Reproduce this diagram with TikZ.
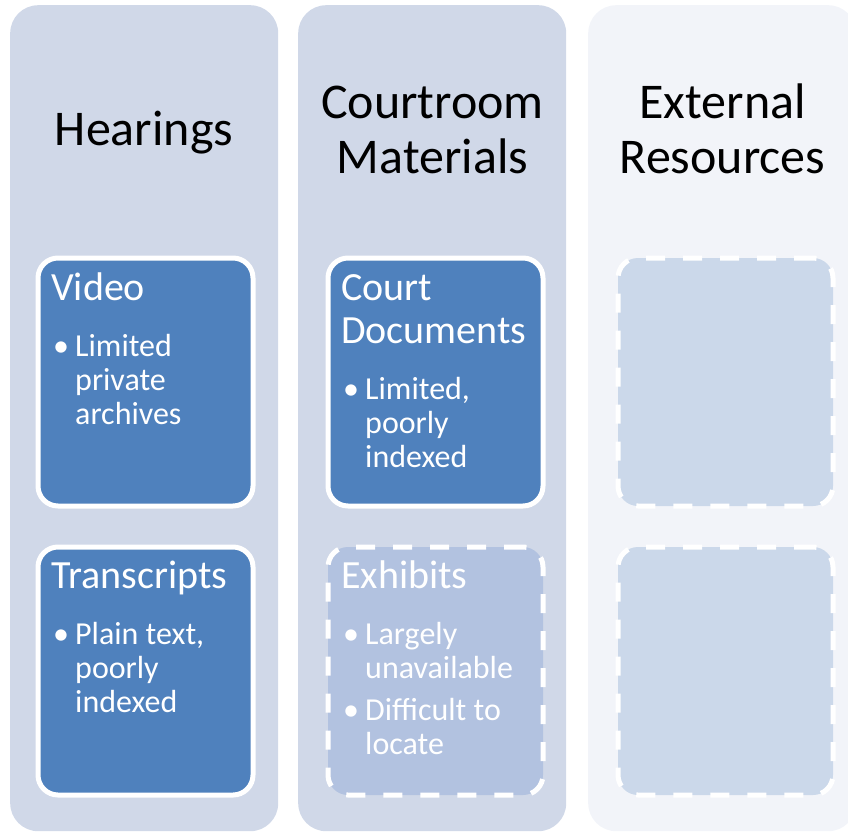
\documentclass[tikz,border=0pt]{standalone}
\usepackage{fontspec}
\setmainfont{Carlito}

\definecolor{colfill}{HTML}{D0D8E8}
\definecolor{colpale}{HTML}{F2F4F9}
\definecolor{cardblue}{HTML}{4F81BD}
\definecolor{cardsoft}{HTML}{B2C2E0}
\definecolor{cardghost}{HTML}{CBD8EA}

% text of a card: heading, then bullet lines
\newcommand{\cardbody}[2]{\parbox[t]{200pt}{\raggedright
  \fontsize{40}{43}\selectfont #1\par\vspace{22pt}%
  \fontsize{32}{34}\selectfont #2}}
\newcommand{\bul}[1]{\par\hangindent=24pt\hangafter=1\noindent
  \makebox[24pt][l]{\hspace{2pt}\textbullet}#1}

\tikzset{
  column/.style={rectangle, rounded corners=28pt, fill=colfill, inner sep=0pt,
    minimum width=268pt, minimum height=826pt, anchor=north west},
  card/.style={rectangle, rounded corners=20pt, draw=white, line width=5pt,
    fill=cardblue, inner sep=0pt, minimum width=215pt, minimum height=248pt,
    anchor=north west},
  softcard/.style={card, fill=cardsoft, dash pattern=on 19pt off 18pt},
  ghostcard/.style={card, fill=cardghost, dash pattern=on 19pt off 18pt},
  coltitle/.style={inner sep=0pt, anchor=base, font=\fontsize{50}{55}\selectfont},
  cardtext/.style={inner sep=0pt, anchor=base west, text=white},
}

\begin{document}
\begin{tikzpicture}[x=1pt, y=-1pt]
\useasboundingbox (0,0) rectangle (848,833);

% Spalten
\node[column] (hear) at (10,5) {};
\node[column] (court) at (298,5) {};
\node[column, fill=colpale] (ext) at (588,5) {};

% Spaltentitel
\node[coltitle] (hearT) at (144,145) {Hearings};
\node[coltitle] (courtT) at (432.5,118) {\parbox[t]{260pt}{\centering Courtroom\\Materials}};
\node[coltitle] (extT) at (722.5,118) {\parbox[t]{260pt}{\centering External\\Resources}};

% Karten
\node[card] (video) at (35.5,255.5) {};
\node[card] (trans) at (35.5,544.5) {};
\node[card] (docs) at (325.5,255.5) {};
\node[softcard] (exhib) at (325.5,544.5) {};
\node[ghostcard] (extA) at (615.5,255.5) {};
\node[ghostcard] (extB) at (615.5,544.5) {};

% Kartentexte
\node[cardtext] (videoT) at (51,300) {\cardbody{Video}{\bul{Limited\newline private\newline archives}}};
\node[cardtext] (transT) at (51,588) {\cardbody{Transcripts}{\bul{Plain text,\newline poorly\newline indexed}}};
\node[cardtext] (docsT) at (341,300) {\cardbody{Court\\Documents}{\bul{Limited,\newline poorly\newline indexed}}};
\node[cardtext] (exhibT) at (341,588) {\cardbody{Exhibits}{\bul{Largely\newline unavailable}\par\vspace{8pt}\bul{Difficult to\newline locate}}};
\end{tikzpicture}
\end{document}
